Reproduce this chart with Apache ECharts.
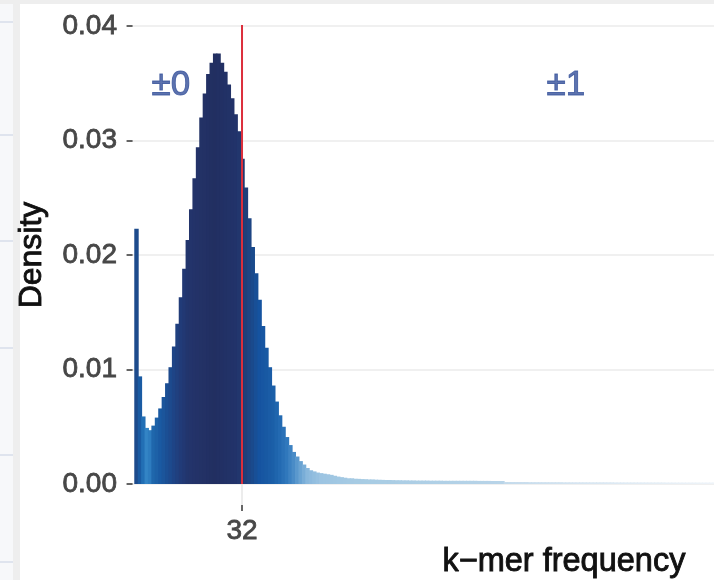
<!DOCTYPE html>
<html><head><meta charset="utf-8">
<script src="https://cdn.jsdelivr.net/npm/echarts@6/dist/echarts.min.js"></script>
<style>html,body{margin:0;padding:0;background:#fff}#c{width:714px;height:580px}</style>
</head><body><div id="c"></div>
<script>
// ---- data ----
const density = [
  0.0223, 0.0094, 0.0059, 0.0049, 0.0047, 0.0051, 0.0058, 0.0066, 0.0076, 0.0088,
  0.0102, 0.0120, 0.0140, 0.0163, 0.0188, 0.0213, 0.0240, 0.0267, 0.0294, 0.0320,
  0.0341, 0.0358, 0.0368, 0.0376, 0.0376, 0.0368, 0.0360, 0.0349, 0.0337, 0.0323,
  0.0308, 0.0284, 0.0259, 0.0232, 0.0207, 0.0184, 0.0161, 0.0138, 0.0119, 0.0102,
  0.0086, 0.0072, 0.0060, 0.0050, 0.0041, 0.0034, 0.0028, 0.0024, 0.0020, 0.0017,
  0.0014, 0.0012, 0.0011, 0.0010, 0.00095, 0.0009, 0.00085, 0.0008, 0.00072, 0.00065,
  0.0006, 0.00055, 0.0005, 0.0005, 0.00046, 0.00045, 0.00043, 0.00042, 0.0004, 0.0004,
  0.00038, 0.00037, 0.00036, 0.00035, 0.00035, 0.00034, 0.00033, 0.00033, 0.00032, 0.00032,
  0.00031, 0.00031, 0.0003, 0.0003, 0.0003, 0.0003, 0.00029, 0.00029, 0.00029, 0.00029,
  0.00028, 0.00028, 0.00028, 0.00028, 0.00028, 0.00028, 0.00028, 0.00028, 0.00028, 0.00028,
  0.00027, 0.00027, 0.00027, 0.00027, 0.00026, 0.00026, 0.00026, 0.00026, 0.00017, 0.00017,
  0.00017, 0.00017, 0.00017, 0.00017, 0.00017, 0.00016, 0.00016, 0.00016, 0.00016, 0.00016,
  0.00016, 0.00016, 0.00016, 0.00016, 0.00016, 0.00015, 0.00015, 0.00015, 0.00015, 0.00015,
  0.00015, 0.00015, 0.00015, 0.00015, 0.00015, 0.00015, 0.00015, 0.00015, 0.00015, 0.00015,
  0.00014, 0.00014, 0.00014, 0.00014, 0.00014, 0.00014, 0.00014, 0.00014, 0.00014, 0.00014,
  0.00014, 0.00014, 0.00014, 0.00014, 0.00014, 0.00013, 0.00013, 0.00013, 0.00013, 0.00013,
  0.00013, 0.00013, 0.00013, 0.00013, 0.00013, 0.00013, 0.00013, 0.00013, 0.00013, 0.00013
];
const frequencies = density.map((_, i) => i + 1);
const markerFrequency = 32;
const xTickValues = [32];
const yTickValues = [0, 0.01, 0.02, 0.03, 0.04];
const annotationLabels = ['\u00b10', '\u00b11'];
const annotationX = [11.2, 126.7];
const annotationY = [0.0348, 0.0348];
const xTitle = 'k\u2212mer frequency';
const yTitle = 'Density';

// ---- style: fill colour along the frequency axis ----
const colorStops = [
  [1, '#1d4b8c'], [2, '#1a5ba3'], [3, '#226fb5'], [4, '#3384c5'], [5, '#2d7cbf'],
  [6, '#1f67ac'], [8, '#1a5aa2'], [10, '#1b4f94'], [12, '#1e4486'], [14, '#213b78'],
  [16, '#22356d'], [18, '#233369'], [24, '#222f61'], [30, '#22336a'], [32, '#21386f'],
  [33, '#1f3f7a'], [35, '#1a4a8c'], [37, '#1553a0'], [39, '#1859a3'], [41, '#1b5fa8'],
  [43, '#236ab2'], [45, '#3078bc'], [47, '#4a8cc7'], [49, '#6aa3d2'], [51, '#88b7dc'],
  [55, '#9cc4e2'], [65, '#a6cbe3'], [90, '#b0d0e6'], [108, '#b8d4e8'], [109, '#c3daeb'],
  [130, '#d6e5f1'], [150, '#e3edf5'], [170, '#eef3f8']
];
function hex2rgb(h) { return [1, 3, 5].map(i => parseInt(h.substr(i, 2), 16)); }
function colorAt(x) {
  for (let i = 0; i < colorStops.length - 1; i++) {
    const a = colorStops[i], b = colorStops[i + 1];
    if (x >= a[0] && x <= b[0]) {
      const t = (x - a[0]) / (b[0] - a[0]);
      const ca = hex2rgb(a[1]), cb = hex2rgb(b[1]);
      return 'rgb(' + ca.map((v, k) => Math.round(v + (cb[k] - v) * t)).join(',') + ')';
    }
  }
  return colorStops[colorStops.length - 1][1];
}

const FONT = '"Liberation Sans", Arial, Helvetica, sans-serif';
const TICK_COL = '#474747';
const chart = echarts.init(document.getElementById('c'), null, { renderer: 'canvas' });

const leftLines = [22, 135, 241, 348, 455, 562];
const graphics = [
  { type: 'rect', shape: { x: 0, y: 0, width: 714, height: 4 }, style: { fill: '#eeeeee' }, silent: true, z: -10 },
  { type: 'rect', shape: { x: 0, y: 0, width: 20, height: 580 }, style: { fill: '#eeeeee' }, silent: true, z: -10 },
  { type: 'rect', shape: { x: 0, y: 4, width: 13, height: 576 }, style: { fill: '#f7f8fa' }, silent: true, z: -9 }
].concat(leftLines.map(y => ({
  type: 'rect', shape: { x: 0, y: y - 1, width: 13, height: 2 }, style: { fill: '#dfe4ee' }, silent: true, z: -8
}))).concat([
  { type: 'text', left: 442, top: 545, style: { text: xTitle, font: '32.5px ' + FONT, fill: '#111', stroke: '#111', lineWidth: 0.9 } }
]);

chart.setOption({
  animation: false,
  backgroundColor: '#ffffff',
  graphic: graphics,
  grid: { left: 130, right: 0, top: 26, bottom: 96 },
  xAxis: [
    {
      type: 'value', min: -0.75, max: 170,
      axisLine: { show: false },
      axisTick: { show: true, customValues: xTickValues, length: 21, lineStyle: { color: '#e6e6e6', width: 1.5 } },
      axisLabel: { show: false },
      splitLine: { show: false }
    },
    {
      type: 'value', min: -0.75, max: 170, position: 'bottom', offset: 21,
      axisLine: { show: false },
      axisTick: { show: true, customValues: xTickValues, length: 6, lineStyle: { color: '#333', width: 1.5 } },
      axisLabel: { show: true, customValues: xTickValues, margin: 12, fontSize: 28, fontFamily: FONT, color: TICK_COL,
        textBorderColor: TICK_COL, textBorderWidth: 0.8 },
      splitLine: { show: false }
    }
  ],
  yAxis: {
    type: 'value', min: 0, max: 0.04, interval: 0.01,
    name: yTitle, nameLocation: 'middle', nameGap: 82, nameRotate: 90,
    nameTextStyle: { fontSize: 32, fontFamily: FONT, color: '#111', textBorderColor: '#111', textBorderWidth: 0.9 },
    axisLine: { show: false },
    axisTick: { show: true, length: 6, lineStyle: { color: '#333', width: 1.5 } },
    axisLabel: { margin: 13, fontSize: 28, fontFamily: FONT, color: TICK_COL, formatter: v => v.toFixed(2),
      textBorderColor: TICK_COL, textBorderWidth: 0.8 },
    splitLine: { show: true, lineStyle: { color: '#ebebeb', width: 1.5 } }
  },
  series: [
    {
      type: 'custom',
      xAxisIndex: 0,
      data: frequencies.map((f, i) => [f, density[i]]),
      encode: { x: 0, y: 1 },
      renderItem: function (params, api) {
        const x = api.value(0), y = api.value(1);
        const p0 = api.coord([x - 0.5, y]);
        const p1 = api.coord([x + 0.5, 0]);
        return {
          type: 'rect',
          shape: { x: p0[0], y: p0[1], width: p1[0] - p0[0] + 1, height: p1[1] - p0[1] },
          style: { fill: colorAt(x) }
        };
      },
      z: 2
    },
    {
      type: 'line',
      xAxisIndex: 0,
      data: [[markerFrequency, 0], [markerFrequency, 0.0401]],
      symbol: 'none',
      lineStyle: { color: '#dc2f3c', width: 2 },
      z: 5
    },
    {
      type: 'scatter',
      xAxisIndex: 0,
      symbolSize: 0,
      data: annotationLabels.map((t, i) => ({ name: t, value: [annotationX[i], annotationY[i]] })),
      label: {
        show: true, position: 'inside', formatter: p => p.name,
        fontSize: 35, fontFamily: FONT, color: '#34509a', textBorderColor: '#34509a', textBorderWidth: 0.9
      },
      z: 6
    }
  ]
});
</script>
</body></html>
